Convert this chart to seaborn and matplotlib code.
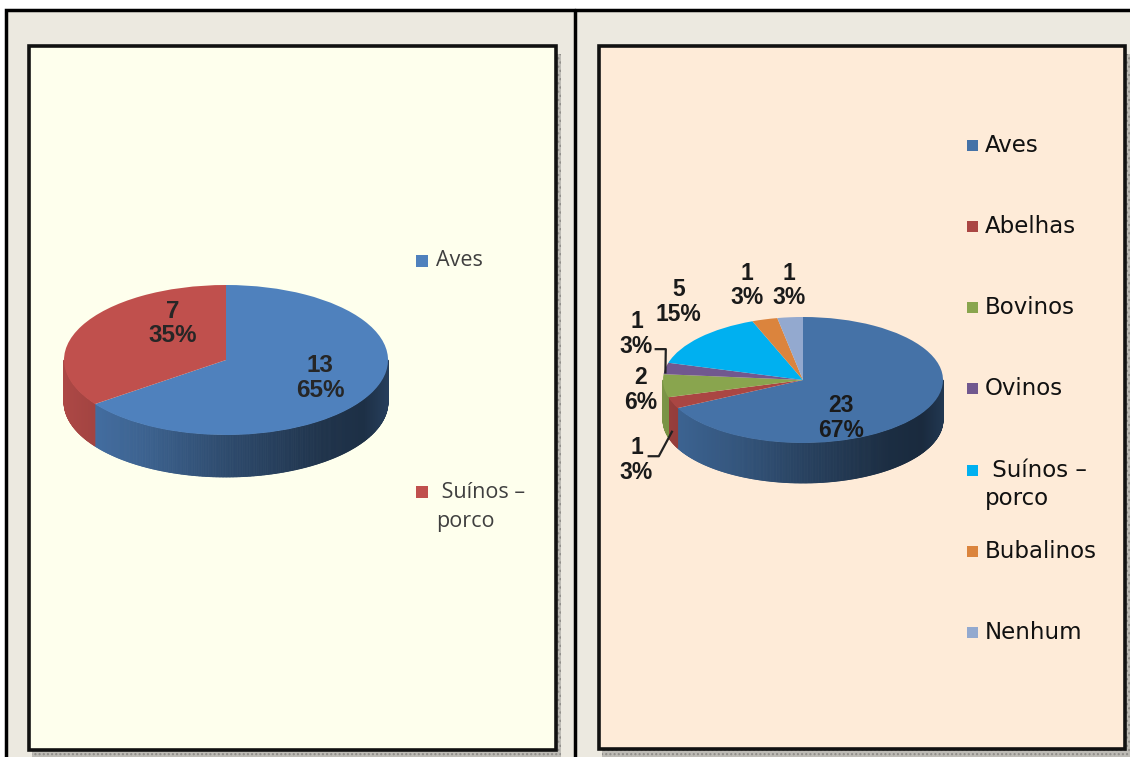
import numpy as np
import matplotlib
matplotlib.use("Agg")
import matplotlib.pyplot as plt
from matplotlib.patches import Rectangle
from matplotlib.collections import PolyCollection
from matplotlib.colors import to_rgb
import seaborn as sns

# ---- data -------------------------------------------------------------
left_categories = ["Aves", " Suínos –\nporco"]
left_counts = [13, 7]
left_percent_labels = ["65%", "35%"]
left_colors = ["#4F81BD", "#C0504D"]

right_categories = ["Aves", "Abelhas", "Bovinos", "Ovinos",
                    " Suínos –\nporco", "Bubalinos", "Nenhum"]
right_counts = [23, 1, 2, 1, 5, 1, 1]
right_percent_labels = ["67%", "3%", "6%", "3%", "15%", "3%", "3%"]
right_colors = ["#4572A7", "#AA4643", "#89A54E", "#71588F",
                "#00B0F0", "#DB843D", "#93A9CF"]

# ---- styling ----------------------------------------------------------
sns.set_theme(style="white")
plt.rcParams["font.family"] = ["DejaVu Sans"]

W, H = 1130, 757
fig = plt.figure(figsize=(W / 100, H / 100), dpi=100)
fig.patch.set_facecolor("white")

# background layer in pixel coordinates
bg = fig.add_axes([0, 0, 1, 1])
bg.set_xlim(0, W)
bg.set_ylim(H, 0)
bg.axis("off")

bg.add_patch(Rectangle((6, 10), W, H, facecolor="#ECE9E0",
                       edgecolor="black", linewidth=2.5))
bg.plot([575, 575], [10, H], color="black", linewidth=2.5)


def panel(x0, y0, x1, y1, face):
    # stippled drop shadow, then the framed panel
    bg.add_patch(Rectangle((x0 + 3, y0 + 8), x1 - x0 + 2, y1 - y0 + 1,
                           facecolor="#BDBBB5", edgecolor="#8E8C88",
                           hatch="....", linewidth=0))
    bg.add_patch(Rectangle((x0, y0), x1 - x0, y1 - y0, facecolor=face,
                           edgecolor="#111111", linewidth=2.6))


panel(29, 46, 556, 750, "#FEFFED")
panel(599, 46, 1125, 749, "#FEEBD8")

shade_x = [-1.0, -0.5, 0.0, 0.6, 0.85, 1.0]
shade_f = [0.90, 0.76, 0.58, 0.40, 0.37, 0.48]


def pie3d(box, values, colors, cx, cy, rx, ry, depth_px):
    x0, y0, x1, y1 = box
    ax = fig.add_axes([x0 / W, 1 - y1 / H, (x1 - x0) / W, (y1 - y0) / H])
    ax.patch.set_alpha(0)
    wedges, _ = ax.pie(values, colors=colors, startangle=90,
                       counterclock=False,
                       wedgeprops=dict(linewidth=0, zorder=3))
    ax.set_aspect("auto")
    ax.set_xlim((x0 - cx) / rx, (x1 - cx) / rx)
    ax.set_ylim((cy - y1) / ry, (cy - y0) / ry)
    ax.axis("off")
    depth = depth_px / ry

    # shaded rim on the front half of the disc
    polys, cols = [], []
    for w, c in zip(wedges, colors):
        base = np.array(to_rgb(c))
        for k in (-360, 0, 360):
            lo = max(w.theta1 + k, 180)
            hi = min(w.theta2 + k, 360)
            if hi <= lo:
                continue
            ts = np.radians(np.linspace(lo, hi, max(2, int((hi - lo) / 0.5) + 1)))
            for r0, r1 in zip(ts[:-1], ts[1:]):
                polys.append([(np.cos(r0), np.sin(r0)), (np.cos(r1), np.sin(r1)),
                              (np.cos(r1), np.sin(r1) - depth),
                              (np.cos(r0), np.sin(r0) - depth)])
                f = np.interp(np.cos((r0 + r1) / 2), shade_x, shade_f)
                cols.append(np.clip(base * f, 0, 1))
    ax.add_collection(PolyCollection(polys, facecolors=cols, edgecolors=cols,
                                     linewidths=0.6, zorder=2))
    return ax, wedges, depth


def mid_angle(w):
    return np.radians((w.theta1 + w.theta2) / 2)


# ---- left chart -------------------------------------------------------
axL, wL, dL = pie3d((31, 48, 553, 747), left_counts, left_colors,
                    226, 360, 162, 75, 42)
left_label_pos = [(0.58, -0.24), (-0.33, 0.49)]
for n, pct, (lx, ly) in zip(left_counts, left_percent_labels, left_label_pos):
    axL.text(lx, ly, f"{n}\n{pct}", ha="center", va="center",
             fontsize=17.5, fontweight="bold", family="Liberation Sans",
             color="#262626", linespacing=1.08, zorder=5)

for i, (cat, col) in enumerate(zip(left_categories, left_colors)):
    yc = 261 + i * 231
    bg.add_patch(Rectangle((416, yc - 6), 12, 12, facecolor=col, linewidth=0))
    for j, line in enumerate(cat.split("\n")):
        bg.text(436, yc + j * 30, line, ha="left", va="center",
                fontsize=15.5, family="Open Sans", color="#3F3F3F")

# ---- right chart ------------------------------------------------------
axR, wR, dR = pie3d((601, 48, 1122, 746), right_counts, right_colors,
                    803, 380, 140, 63, 40)
right_label_pos = [(0.27, -0.60), (-1.19, -1.27), (-1.16, -0.16),
                   (-1.19, 0.73), (-0.89, 1.24), (-0.40, 1.50), (-0.10, 1.50)]
for n, pct, (lx, ly) in zip(right_counts, right_percent_labels, right_label_pos):
    axR.text(lx, ly, f"{n}\n{pct}", ha="center", va="center",
             fontsize=16.5, fontweight="bold", family="Liberation Sans",
             color="#1A1A1A", linespacing=1.08, zorder=5)

# leader lines for the two narrow slices on the left side
m = mid_angle(wR[3])
axR.plot([-1.06, -0.98, np.cos(m)], [0.49, 0.49, np.sin(m) - 0.08],
         color="#222222", linewidth=1.6, zorder=5, solid_capstyle="butt")
m = mid_angle(wR[1])
axR.plot([-1.11, -1.03, np.cos(m)], [-1.21, -1.21, np.sin(m) - 0.7 * dR],
         color="#222222", linewidth=1.6, zorder=5, solid_capstyle="butt")

for i, (cat, col) in enumerate(zip(right_categories, right_colors)):
    yc = 145 + i * 81.3
    bg.add_patch(Rectangle((967, yc - 5.5), 11, 11, facecolor=col, linewidth=0))
    for j, line in enumerate(cat.split("\n")):
        bg.text(985, yc + j * 28, line, ha="left", va="center",
                fontsize=16.5, family="DejaVu Sans", color="#111111")

fig.savefig("out.png", dpi=100)
